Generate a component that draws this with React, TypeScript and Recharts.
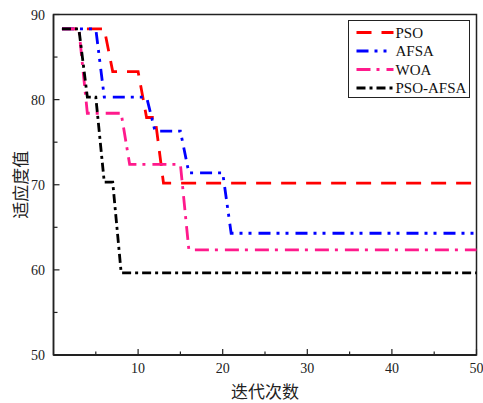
import React from 'react';
import { LineChart, Line, XAxis, YAxis, Legend, ReferenceArea, Label } from 'recharts';

const iterations = [
  1, 2, 3, 4, 5, 6, 7, 8, 9, 10,
  11, 12, 13, 14, 15, 16, 17, 18, 19, 20,
  21, 22, 23, 24, 25, 26, 27, 28, 29, 30,
  31, 32, 33, 34, 35, 36, 37, 38, 39, 40,
  41, 42, 43, 44, 45, 46, 47, 48, 49, 50,
];

const psoValues = [
  88.3, 88.3, 88.3, 88.3, 88.3, 88.3, 83.3, 83.3, 83.3, 83.3,
  77.9, 77.9, 70.2, 70.2, 70.2, 70.2, 70.2, 70.2, 70.2, 70.2,
  70.2, 70.2, 70.2, 70.2, 70.2, 70.2, 70.2, 70.2, 70.2, 70.2,
  70.2, 70.2, 70.2, 70.2, 70.2, 70.2, 70.2, 70.2, 70.2, 70.2,
  70.2, 70.2, 70.2, 70.2, 70.2, 70.2, 70.2, 70.2, 70.2, 70.2,
];

const afsaValues = [
  88.3, 88.3, 88.3, 88.3, 88.3, 80.3, 80.3, 80.3, 80.3, 80.3,
  80.3, 76.3, 76.3, 76.3, 76.3, 71.4, 71.4, 71.4, 71.4, 71.4,
  64.3, 64.3, 64.3, 64.3, 64.3, 64.3, 64.3, 64.3, 64.3, 64.3,
  64.3, 64.3, 64.3, 64.3, 64.3, 64.3, 64.3, 64.3, 64.3, 64.3,
  64.3, 64.3, 64.3, 64.3, 64.3, 64.3, 64.3, 64.3, 64.3, 64.3,
];

const woaValues = [
  88.3, 88.3, 88.3, 78.4, 78.4, 78.4, 78.4, 78.4, 72.4, 72.4,
  72.4, 72.4, 72.4, 72.4, 72.4, 62.35, 62.35, 62.35, 62.35, 62.35,
  62.35, 62.35, 62.35, 62.35, 62.35, 62.35, 62.35, 62.35, 62.35, 62.35,
  62.35, 62.35, 62.35, 62.35, 62.35, 62.35, 62.35, 62.35, 62.35, 62.35,
  62.35, 62.35, 62.35, 62.35, 62.35, 62.35, 62.35, 62.35, 62.35, 62.35,
];

const psoAfsaValues = [
  88.3, 88.3, 88.3, 80.3, 80.3, 70.3, 70.3, 59.65, 59.65, 59.65,
  59.65, 59.65, 59.65, 59.65, 59.65, 59.65, 59.65, 59.65, 59.65, 59.65,
  59.65, 59.65, 59.65, 59.65, 59.65, 59.65, 59.65, 59.65, 59.65, 59.65,
  59.65, 59.65, 59.65, 59.65, 59.65, 59.65, 59.65, 59.65, 59.65, 59.65,
  59.65, 59.65, 59.65, 59.65, 59.65, 59.65, 59.65, 59.65, 59.65, 59.65,
];

const seriesNames = ['PSO', 'AFSA', 'WOA', 'PSO-AFSA'];
const xTicks = [5, 10, 15, 20, 25, 30, 35, 40, 45, 50];
const xLabeled = [10, 20, 30, 40, 50];
const yTicks = [50, 55, 60, 65, 70, 75, 80, 85, 90];
const yLabeled = [50, 60, 70, 80, 90];
const xTitle = '迭代次数';
const yTitle = '适应度值';

const data = iterations.map((it, i) => ({
  iter: it,
  pso: psoValues[i],
  afsa: afsaValues[i],
  woa: woaValues[i],
  psoAfsa: psoAfsaValues[i],
}));

const series = [
  { key: 'pso', name: seriesNames[0], color: '#ff0000', dash: '15 10' },
  { key: 'afsa', name: seriesNames[1], color: '#0000ff', dash: '12 6 3 6 3 7' },
  { key: 'woa', name: seriesNames[2], color: '#ff1a8c', dash: '14 6 3 7' },
  { key: 'psoAfsa', name: seriesNames[3], color: '#000000', dash: '9 4 3 4' },
];

const SERIF = '"Liberation Serif", "Times New Roman", serif';
const CJK = '"Noto Sans CJK SC", sans-serif';
const AXIS = '#222';

const XTick = (props: any) => {
  const { x, y, payload } = props;
  const major = xLabeled.includes(payload.value);
  return (
    <g>
      <line x1={x} x2={x} y1={y} y2={y - (major ? 6 : 3.5)} stroke={AXIS} strokeWidth={1.2} />
      {major && (
        <text x={x} y={y + 18} textAnchor="middle" style={{ fontFamily: SERIF, fontSize: 14 }} fill="#222">
          {payload.value}
        </text>
      )}
    </g>
  );
};

const YTick = (props: any) => {
  const { x, y, payload } = props;
  const major = yLabeled.includes(payload.value);
  return (
    <g>
      <line x1={x} x2={x + (major ? 6 : 4)} y1={y} y2={y} stroke={AXIS} strokeWidth={1.2} />
      {major && (
        <text x={x - 8.5} y={y + 5} textAnchor="end" style={{ fontFamily: SERIF, fontSize: 14 }} fill="#222">
          {payload.value}
        </text>
      )}
    </g>
  );
};

const LegendBox = () => (
  <div
    style={{
      width: 122,
      height: 78,
      border: '1.5px solid #222',
      boxSizing: 'border-box',
      background: '#fff',
    }}
  >
    <svg width={119} height={75} style={{ display: 'block' }}>
      {series.map((s, i) => {
        const cy = 11.5 + i * 18.5;
        return (
          <g key={s.key}>
            <line x1={7.5} x2={44.5} y1={cy} y2={cy} stroke={s.color} strokeWidth={2.8} strokeDasharray={s.dash} />
            <text x={46.5} y={cy + 5} style={{ fontFamily: SERIF, fontSize: 15 }} fill="#111">
              {s.name}
            </text>
          </g>
        );
      })}
    </svg>
  </div>
);

export default function App() {
  return (
    <div style={{ position: 'absolute', left: 0, top: 0, width: 483, height: 403, background: '#fff' }}>
      <LineChart
        width={483}
        height={403}
        data={data}
        margin={{ top: 14.5, right: 6.5, left: 0, bottom: 0 }}
      >
        <XAxis
          dataKey="iter"
          type="number"
          domain={[0, 50]}
          ticks={xTicks}
          interval={0}
          height={48}
          tickSize={0}
          tickMargin={0}
          tickLine={false}
          tick={<XTick />}
          axisLine={{ stroke: AXIS, strokeWidth: 2 }}
        >
          <Label
            content={(p: any) => {
              const vb = p.viewBox;
              return (
                <text x={vb.x + vb.width / 2} y={397.5} textAnchor="middle" style={{ fontFamily: CJK, fontSize: 17 }} fill="#222">
                  {xTitle}
                </text>
              );
            }}
          />
        </XAxis>
        <YAxis
          type="number"
          domain={[50, 90]}
          ticks={yTicks}
          interval={0}
          width={53.5}
          tickSize={0}
          tickMargin={0}
          tickLine={false}
          tick={<YTick />}
          axisLine={{ stroke: AXIS, strokeWidth: 1.5 }}
        >
          <Label
            content={(p: any) => {
              const vb = p.viewBox;
              const cx = 19;
              const cy = vb.y + vb.height / 2;
              return (
                <text
                  x={cx}
                  y={cy}
                  textAnchor="middle"
                  dominantBaseline="central"
                  transform={`rotate(-90 ${cx} ${cy})`}
                  style={{ fontFamily: CJK, fontSize: 17 }}
                  fill="#222"
                >
                  {yTitle}
                </text>
              );
            }}
          />
        </YAxis>
        <ReferenceArea x1={0} x2={50} y1={50} y2={90} fill="none" stroke={AXIS} strokeWidth={1.5} fillOpacity={0} />
        {series.map((s) => (
          <Line
            key={s.key}
            type="linear"
            dataKey={s.key}
            name={s.name}
            stroke={s.color}
            strokeWidth={2.8}
            strokeDasharray={s.dash}
            dot={false}
            activeDot={false}
            isAnimationActive={false}
          />
        ))}
        <Legend
          layout="horizontal"
          verticalAlign="middle"
          align="center"
          content={<LegendBox />}
          wrapperStyle={{ position: 'absolute', left: 348, top: 20, width: 122, height: 78 }}
        />
      </LineChart>
    </div>
  );
}
